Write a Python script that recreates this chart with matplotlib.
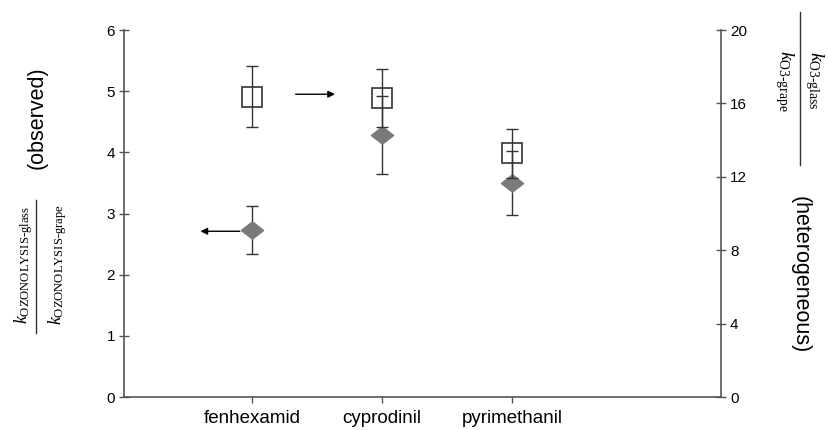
import numpy as np
import matplotlib.pyplot as plt
from matplotlib.path import Path
from matplotlib.lines import Line2D

# data
compounds = ['fenhexamid', 'cyprodinil', 'pyrimethanil']
observed = [2.73, 4.28, 3.50]          # left axis, grey diamonds
observed_err = [0.40, 0.64, 0.52]
hetero = [16.37, 16.30, 13.28]        # right axis, open squares
hetero_err = [1.65, 1.60, 1.32]

plt.rcParams['font.family'] = ['Liberation Sans', 'DejaVu Sans']
plt.rcParams['mathtext.fontset'] = 'custom'
plt.rcParams['mathtext.rm'] = 'Liberation Serif'
plt.rcParams['mathtext.it'] = 'Liberation Serif:italic'

fig = plt.figure(figsize=(8.29, 4.30), dpi=100)
ax = fig.add_axes([0.1496, 0.0767, 0.7201, 0.8535])
ax2 = ax.twinx()

x = np.arange(1, len(compounds) + 1)
grey = '#555555'

# flattened diamond marker
diamond = Path([(-1, 0), (0, 0.78), (1, 0), (0, -0.78), (-1, 0)],
               [Path.MOVETO, Path.LINETO, Path.LINETO, Path.LINETO, Path.CLOSEPOLY])

ax.errorbar(x, observed, yerr=observed_err, fmt='none', ecolor='#333333',
            elinewidth=1.0, capsize=4.5, capthick=1.0, zorder=2)
ax.plot(x, observed, linestyle='none', marker=diamond, markersize=16,
        markerfacecolor='#7a7a7a', markeredgecolor='#7a7a7a', zorder=3)

ax2.errorbar(x, hetero, yerr=hetero_err, fmt='none', ecolor='#333333',
             elinewidth=1.0, capsize=4.5, capthick=1.0, zorder=2)
ax2.plot(x, hetero, linestyle='none', marker='s', markersize=14,
         markerfacecolor='none', markeredgecolor='#333333', markeredgewidth=1.2, zorder=3)

# arrows pointing to the matching axis
ax.annotate('', xy=(0.585, 2.71), xytext=(0.93, 2.71),
            arrowprops=dict(arrowstyle='-|>', color='black', lw=1.0, mutation_scale=10))
ax.annotate('', xy=(1.66, 4.95), xytext=(1.315, 4.95),
            arrowprops=dict(arrowstyle='-|>', color='black', lw=1.0, mutation_scale=10))

ax.set_xlim(0.02, 4.6)
ax.set_ylim(0, 6)
ax2.set_ylim(0, 20)
ax.set_xticks(x)
ax.set_xticklabels(compounds, fontsize=13.5)
ax.set_yticks(range(0, 7))
ax2.set_yticks(range(0, 21, 4))

for a in (ax, ax2):
    for s in a.spines.values():
        s.set_visible(False)
ax.spines['left'].set_visible(True)
ax.spines['bottom'].set_visible(True)
ax2.spines['right'].set_visible(True)
for s in (ax.spines['left'], ax.spines['bottom'], ax2.spines['right']):
    s.set_color(grey)
    s.set_linewidth(1.2)

ax.tick_params(axis='y', direction='inout', length=7, width=1, color=grey, labelsize=11, pad=3)
ax.tick_params(axis='x', direction='out', length=4, width=1, color=grey, pad=5)
ax2.tick_params(axis='y', direction='inout', length=7, width=1, color=grey, labelsize=11, pad=3)

# left axis label: ratio drawn as stacked text with a rule
fig.text(24 / 829, 1 - 265 / 430, r'$k_{\mathrm{OZONOLYSIS\text{-}glass}}$',
         rotation=90, ha='center', va='center', fontsize=13)
fig.text(58 / 829, 1 - 265 / 430, r'$k_{\mathrm{OZONOLYSIS\text{-}grape}}$',
         rotation=90, ha='center', va='center', fontsize=13)
fig.add_artist(Line2D([36 / 829, 36 / 829], [1 - 200 / 430, 1 - 333 / 430],
                      color='#333333', lw=1.0))
fig.text(37 / 829, 1 - 118 / 430, '(observed)', rotation=90,
         ha='center', va='center', fontsize=15.5)

# right axis label
fig.text(814 / 829, 1 - 80 / 430, r'$k_{\mathrm{O3\text{-}glass}}$',
         rotation=-90, ha='center', va='center', fontsize=14)
fig.text(784 / 829, 1 - 81 / 430, r'$k_{\mathrm{O3\text{-}grape}}$',
         rotation=-90, ha='center', va='center', fontsize=14)
fig.add_artist(Line2D([800 / 829, 800 / 829], [1 - 12 / 430, 1 - 165 / 430],
                      color='#333333', lw=1.0))
fig.text(800 / 829, 1 - 275 / 430, '(heterogeneous)', rotation=-90,
         ha='center', va='center', fontsize=15.5)

fig.savefig('out.png', dpi=100)
